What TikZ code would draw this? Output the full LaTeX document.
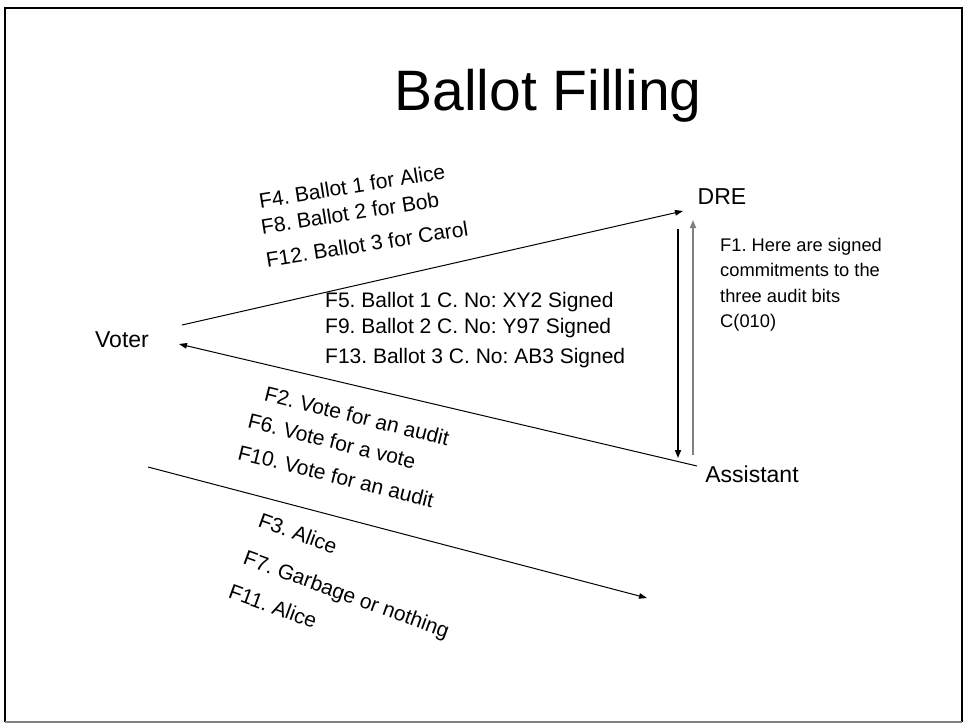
\documentclass[tikz,border=0pt]{standalone}
\usepackage{fontspec}
\setmainfont{Liberation Sans}
\usetikzlibrary{arrows.meta}
\frenchspacing
\begin{document}
\begin{tikzpicture}[x=1pt,y=-1pt,
  actor/.style={inner sep=0pt,font=\fontsize{23}{27}\selectfont},
  msg/.style={inner sep=0pt,font=\fontsize{21}{25}\selectfont},
  note/.style={inner sep=0pt,align=left,font=\fontsize{18.3}{25.5}\selectfont},
  flow/.style={line width=1pt,-{Triangle[length=8pt,width=5.5pt]}},
  vflow/.style={line width=1.6pt,-{Triangle[length=8pt,width=6pt]}}]
\useasboundingbox (0,0) rectangle (966,723);
% slide frame
\draw[line width=2pt] (5,722) -- (5,8) -- (962,8) -- (962,722);
\draw[line width=2pt,gray] (5,721.5) -- (962,721.5);
% title
\node[inner sep=0pt,font=\fontsize{57}{60}\selectfont] (title) at (548,96) {Ballot Filling};
% parties
\node[actor] (voter) at (122,340) {Voter};
\node[actor] (dre) at (722,197) {DRE};
\node[actor] (asst) at (752,474) {Assistant};
% connector end points
\coordinate (v1) at (182,325);
\coordinate (d1) at (683,211);
\coordinate (a2) at (697,466);
\coordinate (v2) at (179,344);
\coordinate (v3) at (148,467);
\coordinate (a3) at (647,598);
\coordinate (dtop) at (678,229);
\coordinate (dbot) at (678,458);
\coordinate (gbot) at (693,455);
\coordinate (gtop) at (693,220);
% messages
\draw[flow] (v1) -- (d1);
\draw[flow] (a2) -- (v2);
\draw[flow] (v3) -- (a3);
\draw[vflow] (dtop) -- (dbot);
\draw[vflow,gray] (gbot) -- (gtop);
% labels of the voter to DRE messages
\node[msg,rotate=9] (f4) at (352,186) {F4. Ballot 1 for Alice};
\node[msg,rotate=9] (f8) at (350,213) {F8. Ballot 2 for Bob};
\node[msg,rotate=9] (f12) at (367,244) {F12. Ballot 3 for Carol};
% labels of the DRE to voter messages
\node[msg,anchor=west] (f5) at (325,302) {F5. Ballot 1 C. No: XY2 Signed};
\node[msg,anchor=west] (f9) at (325,328) {F9. Ballot 2 C. No: Y97 Signed};
\node[msg,anchor=west] (f13) at (325,358) {F13. Ballot 3 C. No: AB3 Signed};
% labels of the assistant to voter messages
\node[msg,rotate=-14] (f2) at (357,416) {F2. Vote for an audit};
\node[msg,rotate=-14] (f6) at (332,441) {F6. Vote for a vote};
\node[msg,rotate=-14] (f10) at (336,476) {F10. Vote for an audit};
% labels of the voter to assistant messages
\node[msg,rotate=-20] (f3) at (298,533) {F3. Alice};
\node[msg,rotate=-20] (f7) at (346,596) {F7. Garbage or nothing};
\node[msg,rotate=-20] (f11) at (273,606) {F11. Alice};
% DRE to assistant commitment
\node[note,anchor=north west] (f1) at (720,238) {F1. Here are signed\\commitments to the\\three audit bits\\C(010)};
\end{tikzpicture}
\end{document}
